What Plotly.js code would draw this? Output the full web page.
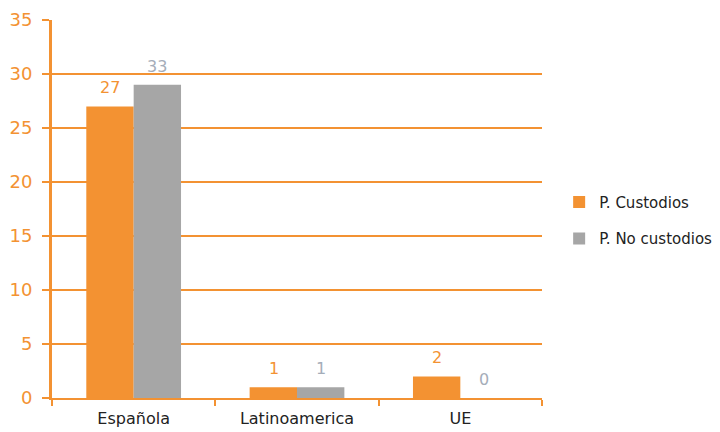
<!DOCTYPE html>
<html>
<head>
<meta charset="utf-8">
<script src="https://cdn.plot.ly/plotly-3.0.1.min.js"></script>
<style>html,body{margin:0;padding:0;background:#fff;}#chart{width:720px;height:432px;}</style>
</head>
<body>
<div id="chart"></div>
<script>
var categories = ["Española", "Latinoamerica", "UE"];
var custodiosValues = [27, 1, 2];
var custodiosLabels = ["27", "1", "2"];
var noCustodiosValues = [29, 1, 0];
var noCustodiosLabels = ["33", "1", "0"];
var seriesNames = ["P. Custodios", "P. No custodios"];
var yTicks = [0, 5, 10, 15, 20, 25, 30, 35];

var orange = "#F39232";
var grey = "#A6A6A6";
var greyText = "#A5ADB9";
var font = "DejaVu Sans, Verdana, sans-serif";

var traces = [
  {
    type: "bar", name: seriesNames[0], x: categories, y: custodiosValues,
    legendgroup: "a", marker: {color: orange}
  },
  {
    type: "bar", name: seriesNames[1], x: categories, y: noCustodiosValues,
    legendgroup: "b", marker: {color: grey}
  }
];

var annotations = [];
function addLabels(values, labels, color, xshift) {
  for (var i = 0; i < categories.length; i++) {
    annotations.push({
      x: categories[i], y: values[i], xref: "x", yref: "y",
      text: labels[i], showarrow: false, xanchor: "center", yanchor: "bottom",
      xshift: xshift, yshift: 7,
      font: {color: color, size: 16, family: font}
    });
  }
}
addLabels(custodiosValues, custodiosLabels, orange, -23.5);
addLabels(noCustodiosValues, noCustodiosLabels, greyText, 23.5);

var layout = {
  width: 720, height: 432,
  margin: {l: 52, r: 178, t: 20, b: 34, autoexpand: false},
  paper_bgcolor: "#fff", plot_bgcolor: "#fff",
  barmode: "group", bargap: 0.42, bargroupgap: 0,
  font: {family: font},
  showlegend: true,
  legend: {x: 1.035, y: 0.47, yanchor: "middle", xanchor: "left",
    font: {size: 15, color: "#222", family: font}, tracegroupgap: 14,
    itemwidth: 30, traceorder: "grouped"},
  annotations: annotations,
  xaxis: {
    showline: true, linecolor: orange, linewidth: 2,
    ticks: "outside", tickson: "boundaries", ticklen: 6, tickcolor: orange, tickwidth: 2,
    tickfont: {size: 16, color: "#222", family: font},
    ticklabelstandoff: 5,
    showgrid: false, zeroline: false
  },
  yaxis: {
    range: [0, 35], tickvals: yTicks, ticktext: yTicks.map(String),
    showline: true, linecolor: orange, linewidth: 3,
    ticks: "outside", ticklen: 7, tickcolor: orange, tickwidth: 2,
    tickfont: {size: 18, color: orange, family: font},
    ticklabelstandoff: 6,
    showgrid: true, gridcolor: orange, gridwidth: 1.2,
    zeroline: false
  }
};

Plotly.newPlot("chart", traces, layout, {displayModeBar: false, staticPlot: true});
</script>
</body>
</html>
